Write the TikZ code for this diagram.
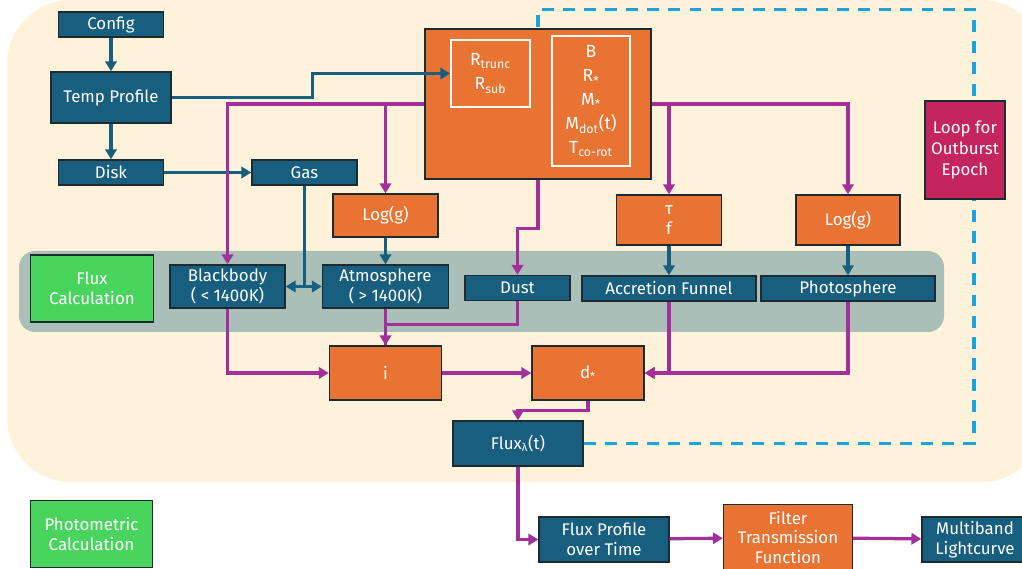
\documentclass[tikz,border=0pt]{standalone}
\usepackage{fontspec}
\setmainfont{Fira Sans}
\usetikzlibrary{arrows.meta,backgrounds}
\definecolor{navy}{HTML}{175E7F}
\definecolor{orng}{HTML}{E97332}
\definecolor{plum}{HTML}{A3309A}
\definecolor{cream}{HTML}{FEF3DA}
\definecolor{sage}{HTML}{AABFB8}
\definecolor{mint}{HTML}{49D45E}
\definecolor{berry}{HTML}{C3255C}
\definecolor{sky}{HTML}{1CA3DE}
\definecolor{edge}{HTML}{1D2B30}
\tikzset{
  every picture/.style={x=0.025cm, y=-0.025cm, font=\fontsize{12}{14}\selectfont},
  sz/.style 2 args={minimum width=#1*0.025cm, minimum height=#2*0.025cm, inner sep=0pt},
  blk/.style={draw=edge, line width=1pt, fill=navy, text=white, align=center},
  org/.style={draw=edge, line width=1pt, fill=orng, text=white, align=center},
  inbox/.style={draw=white, line width=1.2pt, fill=orng, text=white, align=center},
  grn/.style={draw=edge, line width=1pt, fill=mint, text=white, align=center},
  mag/.style={draw=edge, line width=1pt, fill=berry, text=white, align=center},
  bflow/.style={-{Triangle[length=7pt, width=8pt]}, draw=navy, line width=2.3pt},
  pflow/.style={-{Triangle[length=7pt, width=8pt]}, draw=plum, line width=2.3pt},
  pline/.style={draw=plum, line width=2.3pt},
  loopback/.style={draw=sky, line width=2.3pt, dash pattern=on 8.5pt off 6.5pt},
}
\begin{document}
\begin{tikzpicture}
\useasboundingbox (0,0) rectangle (1022,569);
\node[blk, sz={105}{25}] (config) at (111,24.5) {Config};
\node[blk, sz={120}{51}] (temp) at (111,97.5) {Temp Profile};
\node[blk, sz={105}{25}] (disk) at (111,172.5) {Disk};
\node[blk, sz={105}{25}] (gas) at (304.5,172.5) {Gas};
\node[org, sz={226}{150}] (core) at (538,104) {};
\node[inbox, sz={79}{67}, font=\fontsize{12.5}{17}\selectfont] (rin) at (490.5,73.5) {R\textsubscript{trunc}\\R\textsubscript{sub}};
\node[inbox, sz={78}{130}, font=\fontsize{12.5}{17}\selectfont] (pars) at (591,101) {B\\R\textsubscript{*}\\M\textsubscript{*}\\M\textsubscript{dot}(t)\\T\textsubscript{co-rot}};
\node[org, sz={105}{43}] (logl) at (385.5,215.5) {Log(g)};
\node[org, sz={105}{50}] (tau) at (669,220) {τ\\f};
\node[org, sz={104}{50}] (logr) at (848,220) {Log(g)};
\node[mag, sz={80}{98}, font=\fontsize{12}{15}\selectfont] (loop) at (965,150) {Loop for\\Outburst\\Epoch};
\node[grn, sz={123}{67}] (fcalc) at (92,288.5) {Flux\\Calculation};
\node[blk, sz={115}{43}] (bb) at (227.5,286.5) {Blackbody\\( < 1400K)};
\node[blk, sz={126}{43}] (atm) at (385.5,286.5) {Atmosphere\\( > 1400K)};
\node[blk, sz={105}{25}] (dust) at (517.5,288) {Dust};
\node[blk, sz={174}{25}] (acc) at (669,288.5) {Accretion Funnel};
\node[blk, sz={174}{25}] (photo) at (848,288.5) {Photosphere};
\node[org, sz={112}{54}] (incl) at (385.5,373) {i};
\node[org, sz={112}{54}] (dist) at (588,373) {d\textsubscript{*}};
\node[blk, sz={130}{45}] (flux) at (518,443.5) {Flux\textsubscript{λ}(t)};
\node[grn, sz={122}{67}] (phot) at (91.5,534) {Photometric\\Calculation};
\node[blk, sz={130}{45}] (fprof) at (604,539.5) {Flux Profile\\over Time};
\node[org, sz={129}{66}, font=\fontsize{12}{14}\selectfont] (filt) at (788,537.5) {Filter\\Transmission\\Function};
\node[blk, sz={106}{45}] (mband) at (975,539.5) {Multiband\\Lightcurve};
\coordinate (ret) at (974,9.5);
\begin{scope}[on background layer]
\fill[cream, rounded corners=1.6cm] (7,0) rectangle (1045,482);
\fill[sage, rounded corners=0.4cm] (19,251) rectangle (944,332);
\draw[loopback] (flux.east) -| (ret) -| (core.north);
\end{scope}
\foreach \a/\b in {config/temp, temp/disk, disk/gas, logl/atm, tau/acc, logr/photo} \draw[bflow] (\a) -- (\b);
\draw[bflow] (temp.east) -- ++(141,0) |- (rin.west);
\draw[bflow] (gas.south) |- (bb.east);
\draw[bflow] (gas.south) |- (atm.west);
\draw[pflow] (core.west) -| (bb.north);
\draw[pflow] (core.west) -| (logl.north);
\draw[pflow] (core.east) -| (tau.north);
\draw[pflow] (core.east) -| (logr.north);
\draw[pflow] (core.south) -- ++(0,49) -| (dust.north);
\draw[pflow] (bb.south) |- (incl.west);
\draw[pline] (dust.south) -- ++(0,23) -| (incl.north);
\foreach \a/\b in {atm/incl, incl/dist, fprof/filt, filt/mband} \draw[pflow] (\a) -- (\b);
\draw[pflow] (acc.south) |- (dist.east);
\draw[pflow] (photo.south) |- (dist.east);
\draw[pflow] (dist.south) -- ++(0,10) -| (flux.north);
\draw[pflow] (flux.south) |- (fprof.west);
\end{tikzpicture}
\end{document}
